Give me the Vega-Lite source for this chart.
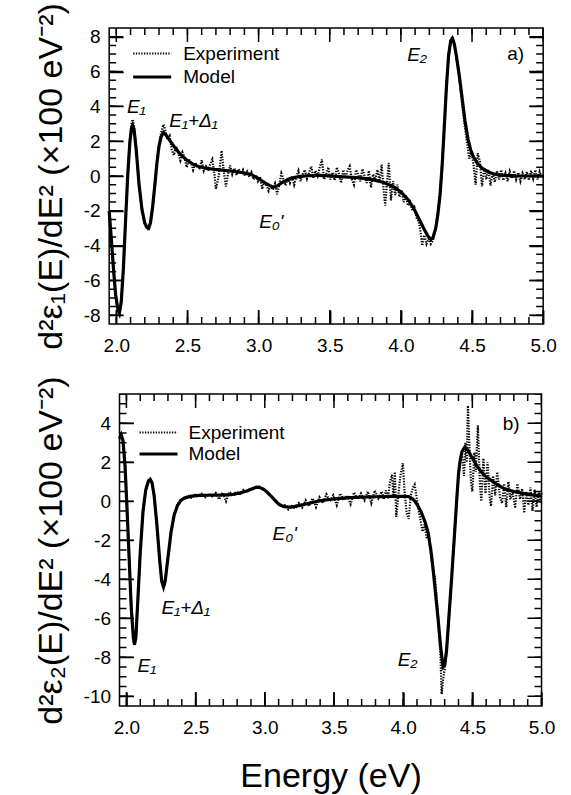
{
"$schema": "https://vega.github.io/schema/vega-lite/v6.json",
"background": "white",
"padding": {"left": 33, "top": 1, "right": 10, "bottom": 5},
"columns": 1,
"center": true,
"spacing": 19,
"config": {
  "view": {"stroke": "black", "strokeWidth": 1.5},
  "axis": {"domain": false, "grid": false, "labelFont": "Liberation Sans", "labelFontSize": 19, "labelColor": "black", "labelFlush": false, "labelOverlap": false, "titleFont": "Liberation Sans", "titleFontSize": 34, "titleFontWeight": "normal", "titleColor": "black"},
  "legend": {"labelFont": "Liberation Sans", "labelFontSize": 19, "labelColor": "black"}
},
"resolve": {"scale": {"strokeDash": "independent", "strokeWidth": "independent"}, "legend": {"strokeDash": "independent", "strokeWidth": "independent"}},
"datasets": {
"xMaj": [{"t":2},{"t":2.5},{"t":3},{"t":3.5},{"t":4},{"t":4.5},{"t":5}],
"xMin": [{"t":2},{"t":2.1},{"t":2.2},{"t":2.3},{"t":2.4},{"t":2.5},{"t":2.6},{"t":2.7},{"t":2.8},{"t":2.9},{"t":3},{"t":3.1},{"t":3.2},{"t":3.3},{"t":3.4},{"t":3.5},{"t":3.6},{"t":3.7},{"t":3.8},{"t":3.9},{"t":4},{"t":4.1},{"t":4.2},{"t":4.3},{"t":4.4},{"t":4.5},{"t":4.6},{"t":4.7},{"t":4.8},{"t":4.9},{"t":5}],
"yMajTop": [{"t":-8},{"t":-6},{"t":-4},{"t":-2},{"t":0},{"t":2},{"t":4},{"t":6},{"t":8}],
"yMinTop": [{"t":-8},{"t":-7.5},{"t":-7},{"t":-6.5},{"t":-6},{"t":-5.5},{"t":-5},{"t":-4.5},{"t":-4},{"t":-3.5},{"t":-3},{"t":-2.5},{"t":-2},{"t":-1.5},{"t":-1},{"t":-0.5},{"t":0},{"t":0.5},{"t":1},{"t":1.5},{"t":2},{"t":2.5},{"t":3},{"t":3.5},{"t":4},{"t":4.5},{"t":5},{"t":5.5},{"t":6},{"t":6.5},{"t":7},{"t":7.5},{"t":8}],
"yMajBot": [{"t":-10},{"t":-8},{"t":-6},{"t":-4},{"t":-2},{"t":0},{"t":2},{"t":4}],
"yMinBot": [{"t":-10},{"t":-9.5},{"t":-9},{"t":-8.5},{"t":-8},{"t":-7.5},{"t":-7},{"t":-6.5},{"t":-6},{"t":-5.5},{"t":-5},{"t":-4.5},{"t":-4},{"t":-3.5},{"t":-3},{"t":-2.5},{"t":-2},{"t":-1.5},{"t":-1},{"t":-0.5},{"t":0},{"t":0.5},{"t":1},{"t":1.5},{"t":2},{"t":2.5},{"t":3},{"t":3.5},{"t":4},{"t":4.5},{"t":5},{"t":5.5}],
"top": [
{"E":1.95,"v":-2.0,"s":"Model"},{"E":1.965,"v":-3.6,"s":"Model"},{"E":1.98,"v":-5.3,"s":"Model"},{"E":1.995,"v":-6.8,"s":"Model"},{"E":2.01,"v":-7.6,"s":"Model"},{"E":2.022,"v":-7.85,"s":"Model"},{"E":2.035,"v":-7.2,"s":"Model"},{"E":2.05,"v":-5.3,"s":"Model"},{"E":2.065,"v":-2.6,"s":"Model"},{"E":2.08,"v":0.0,"s":"Model"},{"E":2.095,"v":1.9,"s":"Model"},{"E":2.107,"v":2.75,"s":"Model"},{"E":2.115,"v":2.9,"s":"Model"},{"E":2.125,"v":2.65,"s":"Model"},{"E":2.14,"v":1.5,"s":"Model"},{"E":2.16,"v":-0.5,"s":"Model"},{"E":2.18,"v":-1.9,"s":"Model"},{"E":2.2,"v":-2.7,"s":"Model"},{"E":2.215,"v":-2.95,"s":"Model"},{"E":2.227,"v":-3.0,"s":"Model"},{"E":2.24,"v":-2.7,"s":"Model"},{"E":2.255,"v":-1.8,"s":"Model"},{"E":2.27,"v":-0.6,"s":"Model"},{"E":2.285,"v":0.7,"s":"Model"},{"E":2.3,"v":1.7,"s":"Model"},{"E":2.315,"v":2.25,"s":"Model"},{"E":2.332,"v":2.5,"s":"Model"},{"E":2.35,"v":2.35,"s":"Model"},{"E":2.38,"v":2.0,"s":"Model"},{"E":2.41,"v":1.65,"s":"Model"},{"E":2.45,"v":1.25,"s":"Model"},{"E":2.49,"v":0.95,"s":"Model"},{"E":2.53,"v":0.72,"s":"Model"},{"E":2.57,"v":0.57,"s":"Model"},{"E":2.62,"v":0.46,"s":"Model"},{"E":2.69,"v":0.38,"s":"Model"},{"E":2.75,"v":0.33,"s":"Model"},{"E":2.81,"v":0.28,"s":"Model"},{"E":2.88,"v":0.2,"s":"Model"},{"E":2.95,"v":0.08,"s":"Model"},{"E":3.0,"v":-0.15,"s":"Model"},{"E":3.05,"v":-0.42,"s":"Model"},{"E":3.1,"v":-0.65,"s":"Model"},{"E":3.13,"v":-0.58,"s":"Model"},{"E":3.17,"v":-0.35,"s":"Model"},{"E":3.22,"v":-0.15,"s":"Model"},{"E":3.28,"v":-0.04,"s":"Model"},{"E":3.35,"v":0.02,"s":"Model"},{"E":3.42,"v":0.04,"s":"Model"},{"E":3.5,"v":0.0,"s":"Model"},{"E":3.6,"v":-0.05,"s":"Model"},{"E":3.7,"v":-0.1,"s":"Model"},{"E":3.8,"v":-0.2,"s":"Model"},{"E":3.88,"v":-0.38,"s":"Model"},{"E":3.95,"v":-0.62,"s":"Model"},{"E":4.0,"v":-0.92,"s":"Model"},{"E":4.05,"v":-1.35,"s":"Model"},{"E":4.09,"v":-1.85,"s":"Model"},{"E":4.13,"v":-2.5,"s":"Model"},{"E":4.16,"v":-3.0,"s":"Model"},{"E":4.19,"v":-3.45,"s":"Model"},{"E":4.21,"v":-3.65,"s":"Model"},{"E":4.225,"v":-3.55,"s":"Model"},{"E":4.245,"v":-3.0,"s":"Model"},{"E":4.26,"v":-2.2,"s":"Model"},{"E":4.275,"v":-1.1,"s":"Model"},{"E":4.29,"v":0.6,"s":"Model"},{"E":4.305,"v":2.8,"s":"Model"},{"E":4.32,"v":5.1,"s":"Model"},{"E":4.335,"v":6.9,"s":"Model"},{"E":4.35,"v":7.75,"s":"Model"},{"E":4.362,"v":7.9,"s":"Model"},{"E":4.375,"v":7.6,"s":"Model"},{"E":4.39,"v":6.9,"s":"Model"},{"E":4.41,"v":5.8,"s":"Model"},{"E":4.43,"v":4.5,"s":"Model"},{"E":4.45,"v":3.2,"s":"Model"},{"E":4.47,"v":2.2,"s":"Model"},{"E":4.49,"v":1.5,"s":"Model"},{"E":4.51,"v":1.1,"s":"Model"},{"E":4.54,"v":0.7,"s":"Model"},{"E":4.57,"v":0.45,"s":"Model"},{"E":4.61,"v":0.25,"s":"Model"},{"E":4.65,"v":0.12,"s":"Model"},{"E":4.7,"v":0.05,"s":"Model"},{"E":4.8,"v":0.0,"s":"Model"},{"E":4.9,"v":0.0,"s":"Model"},{"E":5.0,"v":0.0,"s":"Model"},
{"E":1.95,"v":-2.2,"s":"Experiment"},{"E":1.965,"v":-3.7,"s":"Experiment"},{"E":1.98,"v":-5.4,"s":"Experiment"},{"E":1.995,"v":-6.9,"s":"Experiment"},{"E":2.01,"v":-7.7,"s":"Experiment"},{"E":2.022,"v":-7.95,"s":"Experiment"},{"E":2.035,"v":-7.3,"s":"Experiment"},{"E":2.05,"v":-5.2,"s":"Experiment"},{"E":2.065,"v":-2.5,"s":"Experiment"},{"E":2.08,"v":0.1,"s":"Experiment"},{"E":2.095,"v":2.1,"s":"Experiment"},{"E":2.107,"v":3.0,"s":"Experiment"},{"E":2.115,"v":3.25,"s":"Experiment"},{"E":2.125,"v":2.85,"s":"Experiment"},{"E":2.14,"v":1.6,"s":"Experiment"},{"E":2.16,"v":-0.4,"s":"Experiment"},{"E":2.18,"v":-1.9,"s":"Experiment"},{"E":2.2,"v":-2.75,"s":"Experiment"},{"E":2.215,"v":-3.0,"s":"Experiment"},{"E":2.227,"v":-3.1,"s":"Experiment"},{"E":2.24,"v":-2.75,"s":"Experiment"},{"E":2.255,"v":-1.8,"s":"Experiment"},{"E":2.27,"v":-0.5,"s":"Experiment"},{"E":2.285,"v":0.8,"s":"Experiment"},{"E":2.3,"v":1.8,"s":"Experiment"},{"E":2.315,"v":2.5,"s":"Experiment"},{"E":2.332,"v":2.95,"s":"Experiment"},{"E":2.345,"v":2.6,"s":"Experiment"},{"E":2.36,"v":2.1,"s":"Experiment"},{"E":2.375,"v":2.3,"s":"Experiment"},{"E":2.39,"v":1.5,"s":"Experiment"},{"E":2.405,"v":1.2,"s":"Experiment"},{"E":2.42,"v":1.7,"s":"Experiment"},{"E":2.435,"v":1.35,"s":"Experiment"},{"E":2.45,"v":0.9,"s":"Experiment"},{"E":2.465,"v":1.35,"s":"Experiment"},{"E":2.48,"v":1.05,"s":"Experiment"},{"E":2.495,"v":0.5,"s":"Experiment"},{"E":2.51,"v":0.95,"s":"Experiment"},{"E":2.525,"v":0.8,"s":"Experiment"},{"E":2.54,"v":0.35,"s":"Experiment"},{"E":2.555,"v":0.75,"s":"Experiment"},{"E":2.57,"v":0.55,"s":"Experiment"},{"E":2.585,"v":0.45,"s":"Experiment"},{"E":2.6,"v":0.9,"s":"Experiment"},{"E":2.615,"v":0.3,"s":"Experiment"},{"E":2.63,"v":0.55,"s":"Experiment"},{"E":2.645,"v":0.3,"s":"Experiment"},{"E":2.66,"v":0.7,"s":"Experiment"},{"E":2.675,"v":0.95,"s":"Experiment"},{"E":2.69,"v":0.1,"s":"Experiment"},{"E":2.7,"v":-0.75,"s":"Experiment"},{"E":2.715,"v":-0.2,"s":"Experiment"},{"E":2.725,"v":0.3,"s":"Experiment"},{"E":2.74,"v":1.45,"s":"Experiment"},{"E":2.755,"v":0.3,"s":"Experiment"},{"E":2.77,"v":-0.6,"s":"Experiment"},{"E":2.785,"v":0.1,"s":"Experiment"},{"E":2.8,"v":0.6,"s":"Experiment"},{"E":2.815,"v":0.1,"s":"Experiment"},{"E":2.83,"v":0.45,"s":"Experiment"},{"E":2.845,"v":0.05,"s":"Experiment"},{"E":2.86,"v":0.4,"s":"Experiment"},{"E":2.875,"v":0.15,"s":"Experiment"},{"E":2.89,"v":0.35,"s":"Experiment"},{"E":2.905,"v":0.0,"s":"Experiment"},{"E":2.92,"v":0.25,"s":"Experiment"},{"E":2.935,"v":-0.05,"s":"Experiment"},{"E":2.95,"v":0.2,"s":"Experiment"},{"E":2.965,"v":-0.2,"s":"Experiment"},{"E":2.98,"v":0.05,"s":"Experiment"},{"E":2.995,"v":-0.3,"s":"Experiment"},{"E":3.01,"v":-0.05,"s":"Experiment"},{"E":3.025,"v":-0.75,"s":"Experiment"},{"E":3.04,"v":-0.3,"s":"Experiment"},{"E":3.055,"v":-0.55,"s":"Experiment"},{"E":3.07,"v":-0.85,"s":"Experiment"},{"E":3.085,"v":-0.5,"s":"Experiment"},{"E":3.1,"v":-0.8,"s":"Experiment"},{"E":3.115,"v":-0.45,"s":"Experiment"},{"E":3.13,"v":-1.05,"s":"Experiment"},{"E":3.145,"v":-0.5,"s":"Experiment"},{"E":3.16,"v":0.15,"s":"Experiment"},{"E":3.175,"v":-0.2,"s":"Experiment"},{"E":3.19,"v":-0.55,"s":"Experiment"},{"E":3.205,"v":-0.1,"s":"Experiment"},{"E":3.22,"v":-0.4,"s":"Experiment"},{"E":3.235,"v":0.0,"s":"Experiment"},{"E":3.25,"v":-0.5,"s":"Experiment"},{"E":3.265,"v":-0.05,"s":"Experiment"},{"E":3.28,"v":0.3,"s":"Experiment"},{"E":3.295,"v":-0.3,"s":"Experiment"},{"E":3.31,"v":0.1,"s":"Experiment"},{"E":3.325,"v":0.35,"s":"Experiment"},{"E":3.34,"v":-0.15,"s":"Experiment"},{"E":3.355,"v":0.2,"s":"Experiment"},{"E":3.37,"v":0.55,"s":"Experiment"},{"E":3.385,"v":-0.1,"s":"Experiment"},{"E":3.4,"v":0.3,"s":"Experiment"},{"E":3.415,"v":0.0,"s":"Experiment"},{"E":3.43,"v":0.5,"s":"Experiment"},{"E":3.445,"v":0.95,"s":"Experiment"},{"E":3.46,"v":-0.2,"s":"Experiment"},{"E":3.475,"v":0.1,"s":"Experiment"},{"E":3.49,"v":0.5,"s":"Experiment"},{"E":3.505,"v":-0.2,"s":"Experiment"},{"E":3.52,"v":0.2,"s":"Experiment"},{"E":3.535,"v":-0.25,"s":"Experiment"},{"E":3.55,"v":0.5,"s":"Experiment"},{"E":3.565,"v":0.1,"s":"Experiment"},{"E":3.58,"v":-0.4,"s":"Experiment"},{"E":3.595,"v":0.35,"s":"Experiment"},{"E":3.61,"v":-0.1,"s":"Experiment"},{"E":3.625,"v":0.3,"s":"Experiment"},{"E":3.64,"v":0.55,"s":"Experiment"},{"E":3.655,"v":-0.2,"s":"Experiment"},{"E":3.67,"v":-0.5,"s":"Experiment"},{"E":3.685,"v":0.35,"s":"Experiment"},{"E":3.7,"v":0.1,"s":"Experiment"},{"E":3.715,"v":-0.3,"s":"Experiment"},{"E":3.73,"v":0.4,"s":"Experiment"},{"E":3.745,"v":0.0,"s":"Experiment"},{"E":3.76,"v":-0.4,"s":"Experiment"},{"E":3.775,"v":0.3,"s":"Experiment"},{"E":3.79,"v":-0.65,"s":"Experiment"},{"E":3.805,"v":0.1,"s":"Experiment"},{"E":3.82,"v":-0.2,"s":"Experiment"},{"E":3.835,"v":0.35,"s":"Experiment"},{"E":3.85,"v":-0.3,"s":"Experiment"},{"E":3.865,"v":0.65,"s":"Experiment"},{"E":3.88,"v":-0.9,"s":"Experiment"},{"E":3.89,"v":-1.7,"s":"Experiment"},{"E":3.9,"v":-0.6,"s":"Experiment"},{"E":3.915,"v":0.75,"s":"Experiment"},{"E":3.93,"v":-1.4,"s":"Experiment"},{"E":3.945,"v":-0.3,"s":"Experiment"},{"E":3.96,"v":-1.1,"s":"Experiment"},{"E":3.975,"v":-0.5,"s":"Experiment"},{"E":3.99,"v":-1.2,"s":"Experiment"},{"E":4.005,"v":-0.8,"s":"Experiment"},{"E":4.02,"v":-1.5,"s":"Experiment"},{"E":4.035,"v":-1.1,"s":"Experiment"},{"E":4.05,"v":-1.7,"s":"Experiment"},{"E":4.065,"v":-1.5,"s":"Experiment"},{"E":4.08,"v":-2.0,"s":"Experiment"},{"E":4.095,"v":-1.8,"s":"Experiment"},{"E":4.11,"v":-2.4,"s":"Experiment"},{"E":4.125,"v":-2.6,"s":"Experiment"},{"E":4.14,"v":-3.3,"s":"Experiment"},{"E":4.15,"v":-4.0,"s":"Experiment"},{"E":4.165,"v":-3.4,"s":"Experiment"},{"E":4.18,"v":-3.9,"s":"Experiment"},{"E":4.195,"v":-3.6,"s":"Experiment"},{"E":4.21,"v":-3.9,"s":"Experiment"},{"E":4.225,"v":-3.7,"s":"Experiment"},{"E":4.245,"v":-3.0,"s":"Experiment"},{"E":4.26,"v":-2.1,"s":"Experiment"},{"E":4.275,"v":-1.0,"s":"Experiment"},{"E":4.29,"v":0.7,"s":"Experiment"},{"E":4.305,"v":2.9,"s":"Experiment"},{"E":4.32,"v":5.2,"s":"Experiment"},{"E":4.335,"v":7.0,"s":"Experiment"},{"E":4.35,"v":7.85,"s":"Experiment"},{"E":4.362,"v":8.0,"s":"Experiment"},{"E":4.375,"v":7.6,"s":"Experiment"},{"E":4.39,"v":6.8,"s":"Experiment"},{"E":4.41,"v":5.6,"s":"Experiment"},{"E":4.43,"v":4.2,"s":"Experiment"},{"E":4.45,"v":2.8,"s":"Experiment"},{"E":4.465,"v":1.9,"s":"Experiment"},{"E":4.48,"v":1.0,"s":"Experiment"},{"E":4.495,"v":1.4,"s":"Experiment"},{"E":4.51,"v":0.7,"s":"Experiment"},{"E":4.525,"v":-0.5,"s":"Experiment"},{"E":4.54,"v":1.3,"s":"Experiment"},{"E":4.555,"v":0.85,"s":"Experiment"},{"E":4.57,"v":-0.6,"s":"Experiment"},{"E":4.585,"v":0.45,"s":"Experiment"},{"E":4.6,"v":-0.2,"s":"Experiment"},{"E":4.615,"v":0.35,"s":"Experiment"},{"E":4.63,"v":-0.55,"s":"Experiment"},{"E":4.645,"v":0.2,"s":"Experiment"},{"E":4.66,"v":-0.35,"s":"Experiment"},{"E":4.675,"v":0.3,"s":"Experiment"},{"E":4.69,"v":-0.2,"s":"Experiment"},{"E":4.705,"v":0.35,"s":"Experiment"},{"E":4.72,"v":-0.25,"s":"Experiment"},{"E":4.735,"v":0.15,"s":"Experiment"},{"E":4.75,"v":-0.3,"s":"Experiment"},{"E":4.765,"v":0.25,"s":"Experiment"},{"E":4.78,"v":-0.15,"s":"Experiment"},{"E":4.795,"v":0.3,"s":"Experiment"},{"E":4.81,"v":-0.2,"s":"Experiment"},{"E":4.825,"v":0.2,"s":"Experiment"},{"E":4.84,"v":-0.3,"s":"Experiment"},{"E":4.855,"v":0.15,"s":"Experiment"},{"E":4.87,"v":-0.2,"s":"Experiment"},{"E":4.885,"v":0.25,"s":"Experiment"},{"E":4.9,"v":-0.25,"s":"Experiment"},{"E":4.915,"v":0.3,"s":"Experiment"},{"E":4.93,"v":-0.15,"s":"Experiment"},{"E":4.945,"v":0.35,"s":"Experiment"},{"E":4.96,"v":-0.2,"s":"Experiment"},{"E":4.975,"v":0.25,"s":"Experiment"},{"E":4.99,"v":-0.1,"s":"Experiment"},{"E":5.0,"v":0.05,"s":"Experiment"}
],
"bot": [
{"E":1.95,"v":3.2,"s":"Model"},{"E":1.962,"v":3.4,"s":"Model"},{"E":1.975,"v":3.1,"s":"Model"},{"E":1.99,"v":1.8,"s":"Model"},{"E":2.005,"v":-0.5,"s":"Model"},{"E":2.02,"v":-3.0,"s":"Model"},{"E":2.035,"v":-5.5,"s":"Model"},{"E":2.05,"v":-7.0,"s":"Model"},{"E":2.058,"v":-7.35,"s":"Model"},{"E":2.068,"v":-7.0,"s":"Model"},{"E":2.08,"v":-5.4,"s":"Model"},{"E":2.1,"v":-2.6,"s":"Model"},{"E":2.12,"v":-0.5,"s":"Model"},{"E":2.14,"v":0.6,"s":"Model"},{"E":2.16,"v":1.05,"s":"Model"},{"E":2.172,"v":1.12,"s":"Model"},{"E":2.185,"v":0.95,"s":"Model"},{"E":2.2,"v":0.3,"s":"Model"},{"E":2.22,"v":-1.2,"s":"Model"},{"E":2.24,"v":-3.0,"s":"Model"},{"E":2.255,"v":-4.1,"s":"Model"},{"E":2.268,"v":-4.4,"s":"Model"},{"E":2.28,"v":-4.1,"s":"Model"},{"E":2.3,"v":-2.9,"s":"Model"},{"E":2.323,"v":-1.55,"s":"Model"},{"E":2.345,"v":-0.7,"s":"Model"},{"E":2.37,"v":-0.2,"s":"Model"},{"E":2.395,"v":0.05,"s":"Model"},{"E":2.42,"v":0.17,"s":"Model"},{"E":2.47,"v":0.26,"s":"Model"},{"E":2.52,"v":0.3,"s":"Model"},{"E":2.6,"v":0.31,"s":"Model"},{"E":2.7,"v":0.32,"s":"Model"},{"E":2.76,"v":0.34,"s":"Model"},{"E":2.82,"v":0.42,"s":"Model"},{"E":2.88,"v":0.55,"s":"Model"},{"E":2.93,"v":0.7,"s":"Model"},{"E":2.96,"v":0.72,"s":"Model"},{"E":2.99,"v":0.62,"s":"Model"},{"E":3.02,"v":0.45,"s":"Model"},{"E":3.06,"v":0.15,"s":"Model"},{"E":3.1,"v":-0.15,"s":"Model"},{"E":3.14,"v":-0.28,"s":"Model"},{"E":3.19,"v":-0.3,"s":"Model"},{"E":3.25,"v":-0.22,"s":"Model"},{"E":3.32,"v":-0.1,"s":"Model"},{"E":3.4,"v":0.03,"s":"Model"},{"E":3.5,"v":0.12,"s":"Model"},{"E":3.6,"v":0.18,"s":"Model"},{"E":3.7,"v":0.21,"s":"Model"},{"E":3.8,"v":0.23,"s":"Model"},{"E":3.9,"v":0.25,"s":"Model"},{"E":4.0,"v":0.25,"s":"Model"},{"E":4.04,"v":0.24,"s":"Model"},{"E":4.07,"v":0.12,"s":"Model"},{"E":4.1,"v":-0.15,"s":"Model"},{"E":4.13,"v":-0.55,"s":"Model"},{"E":4.16,"v":-1.1,"s":"Model"},{"E":4.18,"v":-1.6,"s":"Model"},{"E":4.2,"v":-2.5,"s":"Model"},{"E":4.216,"v":-3.45,"s":"Model"},{"E":4.235,"v":-4.8,"s":"Model"},{"E":4.252,"v":-6.0,"s":"Model"},{"E":4.27,"v":-7.4,"s":"Model"},{"E":4.288,"v":-8.5,"s":"Model"},{"E":4.3,"v":-8.4,"s":"Model"},{"E":4.313,"v":-7.7,"s":"Model"},{"E":4.33,"v":-6.0,"s":"Model"},{"E":4.35,"v":-3.97,"s":"Model"},{"E":4.37,"v":-1.8,"s":"Model"},{"E":4.386,"v":-0.04,"s":"Model"},{"E":4.4,"v":1.4,"s":"Model"},{"E":4.41,"v":2.0,"s":"Model"},{"E":4.425,"v":2.55,"s":"Model"},{"E":4.446,"v":2.78,"s":"Model"},{"E":4.47,"v":2.6,"s":"Model"},{"E":4.495,"v":2.27,"s":"Model"},{"E":4.53,"v":1.85,"s":"Model"},{"E":4.565,"v":1.5,"s":"Model"},{"E":4.6,"v":1.25,"s":"Model"},{"E":4.637,"v":1.07,"s":"Model"},{"E":4.68,"v":0.85,"s":"Model"},{"E":4.733,"v":0.64,"s":"Model"},{"E":4.8,"v":0.5,"s":"Model"},{"E":4.878,"v":0.39,"s":"Model"},{"E":4.94,"v":0.32,"s":"Model"},{"E":5.0,"v":0.27,"s":"Model"},
{"E":1.95,"v":3.3,"s":"Experiment"},{"E":1.962,"v":3.45,"s":"Experiment"},{"E":1.975,"v":3.15,"s":"Experiment"},{"E":1.99,"v":1.8,"s":"Experiment"},{"E":2.005,"v":-0.5,"s":"Experiment"},{"E":2.02,"v":-3.0,"s":"Experiment"},{"E":2.035,"v":-5.5,"s":"Experiment"},{"E":2.05,"v":-7.0,"s":"Experiment"},{"E":2.058,"v":-7.4,"s":"Experiment"},{"E":2.068,"v":-7.0,"s":"Experiment"},{"E":2.08,"v":-5.4,"s":"Experiment"},{"E":2.1,"v":-2.6,"s":"Experiment"},{"E":2.12,"v":-0.5,"s":"Experiment"},{"E":2.14,"v":0.6,"s":"Experiment"},{"E":2.16,"v":1.05,"s":"Experiment"},{"E":2.172,"v":1.15,"s":"Experiment"},{"E":2.185,"v":0.95,"s":"Experiment"},{"E":2.2,"v":0.3,"s":"Experiment"},{"E":2.22,"v":-1.2,"s":"Experiment"},{"E":2.24,"v":-3.0,"s":"Experiment"},{"E":2.255,"v":-4.1,"s":"Experiment"},{"E":2.268,"v":-4.45,"s":"Experiment"},{"E":2.28,"v":-4.1,"s":"Experiment"},{"E":2.3,"v":-2.9,"s":"Experiment"},{"E":2.323,"v":-1.55,"s":"Experiment"},{"E":2.345,"v":-0.7,"s":"Experiment"},{"E":2.37,"v":-0.15,"s":"Experiment"},{"E":2.395,"v":0.1,"s":"Experiment"},{"E":2.42,"v":0.12,"s":"Experiment"},{"E":2.445,"v":0.3,"s":"Experiment"},{"E":2.47,"v":0.18,"s":"Experiment"},{"E":2.495,"v":0.33,"s":"Experiment"},{"E":2.52,"v":0.22,"s":"Experiment"},{"E":2.545,"v":0.38,"s":"Experiment"},{"E":2.57,"v":0.2,"s":"Experiment"},{"E":2.595,"v":0.35,"s":"Experiment"},{"E":2.62,"v":0.25,"s":"Experiment"},{"E":2.645,"v":0.42,"s":"Experiment"},{"E":2.67,"v":0.1,"s":"Experiment"},{"E":2.695,"v":0.45,"s":"Experiment"},{"E":2.72,"v":0.0,"s":"Experiment"},{"E":2.745,"v":0.48,"s":"Experiment"},{"E":2.77,"v":0.28,"s":"Experiment"},{"E":2.795,"v":0.5,"s":"Experiment"},{"E":2.82,"v":0.38,"s":"Experiment"},{"E":2.845,"v":0.58,"s":"Experiment"},{"E":2.87,"v":0.48,"s":"Experiment"},{"E":2.895,"v":0.65,"s":"Experiment"},{"E":2.92,"v":0.62,"s":"Experiment"},{"E":2.945,"v":0.8,"s":"Experiment"},{"E":2.97,"v":0.68,"s":"Experiment"},{"E":2.995,"v":0.6,"s":"Experiment"},{"E":3.02,"v":0.42,"s":"Experiment"},{"E":3.045,"v":0.28,"s":"Experiment"},{"E":3.07,"v":0.05,"s":"Experiment"},{"E":3.095,"v":-0.05,"s":"Experiment"},{"E":3.12,"v":-0.3,"s":"Experiment"},{"E":3.145,"v":-0.2,"s":"Experiment"},{"E":3.17,"v":-0.42,"s":"Experiment"},{"E":3.195,"v":-0.25,"s":"Experiment"},{"E":3.22,"v":-0.38,"s":"Experiment"},{"E":3.245,"v":-0.1,"s":"Experiment"},{"E":3.27,"v":-0.32,"s":"Experiment"},{"E":3.295,"v":0.05,"s":"Experiment"},{"E":3.32,"v":-0.25,"s":"Experiment"},{"E":3.345,"v":0.15,"s":"Experiment"},{"E":3.37,"v":-0.3,"s":"Experiment"},{"E":3.395,"v":0.2,"s":"Experiment"},{"E":3.42,"v":-0.1,"s":"Experiment"},{"E":3.445,"v":0.35,"s":"Experiment"},{"E":3.47,"v":0.0,"s":"Experiment"},{"E":3.495,"v":0.3,"s":"Experiment"},{"E":3.52,"v":-0.2,"s":"Experiment"},{"E":3.545,"v":0.4,"s":"Experiment"},{"E":3.57,"v":0.05,"s":"Experiment"},{"E":3.595,"v":0.3,"s":"Experiment"},{"E":3.62,"v":-0.15,"s":"Experiment"},{"E":3.645,"v":0.45,"s":"Experiment"},{"E":3.67,"v":0.1,"s":"Experiment"},{"E":3.695,"v":0.4,"s":"Experiment"},{"E":3.72,"v":0.05,"s":"Experiment"},{"E":3.745,"v":0.5,"s":"Experiment"},{"E":3.77,"v":-0.1,"s":"Experiment"},{"E":3.795,"v":0.55,"s":"Experiment"},{"E":3.82,"v":0.15,"s":"Experiment"},{"E":3.845,"v":0.5,"s":"Experiment"},{"E":3.86,"v":0.1,"s":"Experiment"},{"E":3.875,"v":0.55,"s":"Experiment"},{"E":3.89,"v":0.15,"s":"Experiment"},{"E":3.905,"v":1.0,"s":"Experiment"},{"E":3.92,"v":1.35,"s":"Experiment"},{"E":3.93,"v":0.2,"s":"Experiment"},{"E":3.94,"v":1.5,"s":"Experiment"},{"E":3.95,"v":-0.8,"s":"Experiment"},{"E":3.965,"v":0.3,"s":"Experiment"},{"E":3.98,"v":1.3,"s":"Experiment"},{"E":3.998,"v":1.95,"s":"Experiment"},{"E":4.01,"v":0.5,"s":"Experiment"},{"E":4.025,"v":-0.6,"s":"Experiment"},{"E":4.04,"v":-0.9,"s":"Experiment"},{"E":4.055,"v":0.3,"s":"Experiment"},{"E":4.07,"v":0.7,"s":"Experiment"},{"E":4.083,"v":0.85,"s":"Experiment"},{"E":4.095,"v":0.3,"s":"Experiment"},{"E":4.11,"v":-0.4,"s":"Experiment"},{"E":4.125,"v":-0.95,"s":"Experiment"},{"E":4.14,"v":-1.55,"s":"Experiment"},{"E":4.155,"v":-1.2,"s":"Experiment"},{"E":4.17,"v":-1.9,"s":"Experiment"},{"E":4.185,"v":-1.75,"s":"Experiment"},{"E":4.2,"v":-2.6,"s":"Experiment"},{"E":4.216,"v":-3.6,"s":"Experiment"},{"E":4.23,"v":-3.9,"s":"Experiment"},{"E":4.245,"v":-5.2,"s":"Experiment"},{"E":4.26,"v":-6.8,"s":"Experiment"},{"E":4.27,"v":-8.0,"s":"Experiment"},{"E":4.278,"v":-9.9,"s":"Experiment"},{"E":4.288,"v":-9.2,"s":"Experiment"},{"E":4.3,"v":-8.6,"s":"Experiment"},{"E":4.313,"v":-7.8,"s":"Experiment"},{"E":4.33,"v":-6.1,"s":"Experiment"},{"E":4.35,"v":-4.0,"s":"Experiment"},{"E":4.37,"v":-1.9,"s":"Experiment"},{"E":4.386,"v":-0.1,"s":"Experiment"},{"E":4.4,"v":1.3,"s":"Experiment"},{"E":4.41,"v":2.0,"s":"Experiment"},{"E":4.425,"v":2.4,"s":"Experiment"},{"E":4.44,"v":1.3,"s":"Experiment"},{"E":4.45,"v":3.0,"s":"Experiment"},{"E":4.46,"v":2.0,"s":"Experiment"},{"E":4.468,"v":4.9,"s":"Experiment"},{"E":4.48,"v":2.6,"s":"Experiment"},{"E":4.49,"v":1.0,"s":"Experiment"},{"E":4.5,"v":0.5,"s":"Experiment"},{"E":4.515,"v":2.5,"s":"Experiment"},{"E":4.525,"v":1.5,"s":"Experiment"},{"E":4.54,"v":3.9,"s":"Experiment"},{"E":4.555,"v":0.8,"s":"Experiment"},{"E":4.565,"v":0.0,"s":"Experiment"},{"E":4.58,"v":2.2,"s":"Experiment"},{"E":4.595,"v":0.4,"s":"Experiment"},{"E":4.61,"v":2.0,"s":"Experiment"},{"E":4.625,"v":0.2,"s":"Experiment"},{"E":4.635,"v":-0.25,"s":"Experiment"},{"E":4.65,"v":1.3,"s":"Experiment"},{"E":4.665,"v":0.3,"s":"Experiment"},{"E":4.68,"v":1.5,"s":"Experiment"},{"E":4.7,"v":0.2,"s":"Experiment"},{"E":4.715,"v":-0.1,"s":"Experiment"},{"E":4.73,"v":0.9,"s":"Experiment"},{"E":4.745,"v":-0.3,"s":"Experiment"},{"E":4.76,"v":1.0,"s":"Experiment"},{"E":4.775,"v":0.1,"s":"Experiment"},{"E":4.79,"v":0.5,"s":"Experiment"},{"E":4.81,"v":-0.35,"s":"Experiment"},{"E":4.825,"v":0.9,"s":"Experiment"},{"E":4.845,"v":0.1,"s":"Experiment"},{"E":4.86,"v":0.65,"s":"Experiment"},{"E":4.875,"v":-0.6,"s":"Experiment"},{"E":4.89,"v":0.5,"s":"Experiment"},{"E":4.905,"v":-0.2,"s":"Experiment"},{"E":4.92,"v":0.7,"s":"Experiment"},{"E":4.935,"v":-0.5,"s":"Experiment"},{"E":4.95,"v":0.6,"s":"Experiment"},{"E":4.965,"v":-0.3,"s":"Experiment"},{"E":4.98,"v":0.5,"s":"Experiment"},{"E":4.99,"v":-0.1,"s":"Experiment"},{"E":5.0,"v":0.4,"s":"Experiment"}
],
"topLab": [{"E":2.076,"v":3.96,"t":"E₁"},{"E":2.372,"v":3.16,"t":"E₁+Δ₁"},{"E":3.004,"v":-2.64,"t":"E₀'"},{"E":4.044,"v":6.95,"t":"E₂"}],
"topTag": [{"E":4.747,"v":6.98,"t":"a)"}],
"botLab": [{"E":2.08,"v":-8.45,"t":"E₁"},{"E":2.254,"v":-5.47,"t":"E₁+Δ₁"},{"E":3.056,"v":-1.68,"t":"E₀'"},{"E":3.96,"v":-8.14,"t":"E₂"}],
"botTag": [{"E":4.719,"v":3.96,"t":"b)"}]
},
"concat": [
{
 "width": 434, "height": 296,
 "resolve": {"axis": {"x": "independent", "y": "independent"}},
 "layer": [
  {"data": {"name": "top"}, "mark": {"type": "line", "opacity": 0},
   "encoding": {
    "x": {"field": "E", "type": "quantitative", "scale": {"domain": [1.95, 5]}, "axis": null},
    "y": {"field": "v", "type": "quantitative", "scale": {"domain": [-8.5, 8.5]}, "axis": {"orient": "right", "values": [-8,-6,-4,-2,0,2,4,6,8], "labelExpr": "datum.value < 0 ? '-' + abs(datum.value) : '' + datum.value", "labelOpacity": 0, "labelPadding": 19, "domain": false, "grid": false, "tickColor": "black", "tickWidth": 1.5, "tickSize": -14, "title": null}}
   }},
  {"data": {"name": "top"}, "mark": {"type": "line", "color": "black"},
   "encoding": {
    "x": {"field": "E", "type": "quantitative", "scale": {"domain": [1.95, 5]}, "axis": {"orient": "bottom", "values": [2,2.5,3,3.5,4,4.5,5], "format": ".1f", "domain": false, "grid": false, "tickColor": "black", "tickWidth": 1.5, "tickSize": -14, "labelPadding": 26, "title": null}},
    "y": {"field": "v", "type": "quantitative", "scale": {"domain": [-8.5, 8.5]}, "axis": {"orient": "left", "values": [-8,-6,-4,-2,0,2,4,6,8], "labelExpr": "datum.value < 0 ? '-' + abs(datum.value) : '' + datum.value", "domain": false, "grid": false, "tickColor": "black", "tickWidth": 1.5, "tickSize": -14, "labelPadding": 23, "title": "d²ε₁(E)/dE² (×100 eV⁻²)", "titlePadding": 15}},
    "strokeDash": {"field": "s", "type": "nominal", "scale": {"domain": ["Experiment", "Model"], "range": [[1.3, 1.4], [1, 0]]}, "legend": {"title": null, "orient": "none", "legendX": 31.5, "legendY": 14.5, "symbolType": "M-2,0H2", "symbolSize": 361, "symbolStrokeColor": "black", "labelOffset": 19.5, "rowPadding": 2, "padding": 0}},
    "strokeWidth": {"field": "s", "type": "nominal", "scale": {"domain": ["Experiment", "Model"], "range": [2.2, 3.2]}, "legend": {"title": null, "orient": "none", "legendX": 31.5, "legendY": 14.5, "symbolType": "M-2,0H2", "symbolSize": 361, "symbolStrokeColor": "black", "labelOffset": 19.5, "rowPadding": 2, "padding": 0}}
   }},
  {"data": {"name": "xMaj"}, "mark": {"type": "tick", "orient": "vertical", "size": 28, "thickness": 1.5, "color": "black", "opacity": 1, "clip": true},
   "encoding": {"x": {"field": "t", "type": "quantitative", "scale": {"domain": [1.95, 5]}, "axis": null}, "y": {"datum": 8.5, "type": "quantitative", "scale": {"domain": [-8.5, 8.5]}, "axis": null}}},
  {"data": {"name": "xMaj"}, "mark": {"type": "tick", "orient": "vertical", "size": 28, "thickness": 1.5, "color": "black", "opacity": 1, "clip": true},
   "encoding": {"x": {"field": "t", "type": "quantitative", "scale": {"domain": [1.95, 5]}, "axis": null}, "y": {"datum": -8.5, "type": "quantitative", "scale": {"domain": [-8.5, 8.5]}, "axis": null}}},
  {"data": {"name": "xMin"}, "mark": {"type": "tick", "orient": "vertical", "size": 14, "thickness": 1.5, "color": "black", "opacity": 1, "clip": true},
   "encoding": {"x": {"field": "t", "type": "quantitative", "scale": {"domain": [1.95, 5]}, "axis": null}, "y": {"datum": 8.5, "type": "quantitative", "scale": {"domain": [-8.5, 8.5]}, "axis": null}}},
  {"data": {"name": "xMin"}, "mark": {"type": "tick", "orient": "vertical", "size": 14, "thickness": 1.5, "color": "black", "opacity": 1, "clip": true},
   "encoding": {"x": {"field": "t", "type": "quantitative", "scale": {"domain": [1.95, 5]}, "axis": null}, "y": {"datum": -8.5, "type": "quantitative", "scale": {"domain": [-8.5, 8.5]}, "axis": null}}},
  {"data": {"name": "yMajTop"}, "mark": {"type": "tick", "orient": "horizontal", "size": 28, "thickness": 1.5, "color": "black", "opacity": 1, "clip": true},
   "encoding": {"y": {"field": "t", "type": "quantitative", "scale": {"domain": [-8.5, 8.5]}, "axis": null}, "x": {"datum": 1.95, "type": "quantitative", "scale": {"domain": [1.95, 5]}, "axis": null}}},
  {"data": {"name": "yMajTop"}, "mark": {"type": "tick", "orient": "horizontal", "size": 28, "thickness": 1.5, "color": "black", "opacity": 1, "clip": true},
   "encoding": {"y": {"field": "t", "type": "quantitative", "scale": {"domain": [-8.5, 8.5]}, "axis": null}, "x": {"datum": 5, "type": "quantitative", "scale": {"domain": [1.95, 5]}, "axis": null}}},
  {"data": {"name": "yMinTop"}, "mark": {"type": "tick", "orient": "horizontal", "size": 14, "thickness": 1.5, "color": "black", "opacity": 1, "clip": true},
   "encoding": {"y": {"field": "t", "type": "quantitative", "scale": {"domain": [-8.5, 8.5]}, "axis": null}, "x": {"datum": 1.95, "type": "quantitative", "scale": {"domain": [1.95, 5]}, "axis": null}}},
  {"data": {"name": "yMinTop"}, "mark": {"type": "tick", "orient": "horizontal", "size": 14, "thickness": 1.5, "color": "black", "opacity": 1, "clip": true},
   "encoding": {"y": {"field": "t", "type": "quantitative", "scale": {"domain": [-8.5, 8.5]}, "axis": null}, "x": {"datum": 5, "type": "quantitative", "scale": {"domain": [1.95, 5]}, "axis": null}}},
  {"data": {"name": "topLab"}, "mark": {"type": "text", "align": "left", "baseline": "middle", "font": "Liberation Sans", "fontSize": 19, "fontStyle": "italic", "color": "black"},
   "encoding": {
    "x": {"field": "E", "type": "quantitative", "scale": {"domain": [1.95, 5]}, "axis": null},
    "y": {"field": "v", "type": "quantitative", "scale": {"domain": [-8.5, 8.5]}, "axis": null},
    "text": {"field": "t"}
   }},
  {"data": {"name": "topTag"}, "mark": {"type": "text", "align": "left", "baseline": "middle", "font": "Liberation Sans", "fontSize": 19, "color": "black"},
   "encoding": {
    "x": {"field": "E", "type": "quantitative", "scale": {"domain": [1.95, 5]}, "axis": null},
    "y": {"field": "v", "type": "quantitative", "scale": {"domain": [-8.5, 8.5]}, "axis": null},
    "text": {"field": "t"}
   }}
 ]
},
{
 "width": 422, "height": 312,
 "resolve": {"axis": {"x": "independent", "y": "independent"}},
 "layer": [
  {"data": {"name": "bot"}, "mark": {"type": "line", "color": "black"},
   "encoding": {
    "x": {"field": "E", "type": "quantitative", "scale": {"domain": [1.95, 5]}, "axis": {"orient": "bottom", "values": [2,2.5,3,3.5,4,4.5,5], "format": ".1f", "domain": false, "grid": false, "tickColor": "black", "tickWidth": 1.5, "tickSize": -14, "labelPadding": 26, "title": "Energy (eV)", "titlePadding": 22}},
    "y": {"field": "v", "type": "quantitative", "scale": {"domain": [-10.5, 5.5]}, "axis": {"orient": "left", "values": [-10,-8,-6,-4,-2,0,2,4], "labelExpr": "datum.value < 0 ? '-' + abs(datum.value) : '' + datum.value", "domain": false, "grid": false, "tickColor": "black", "tickWidth": 1.5, "tickSize": -14, "labelPadding": 23, "title": "d²ε₂(E)/dE² (×100 eV⁻²)", "titlePadding": 15}},
    "strokeDash": {"field": "s", "type": "nominal", "scale": {"domain": ["Experiment", "Model"], "range": [[1.3, 1.4], [1, 0]]}, "legend": {"title": null, "orient": "none", "legendX": 27.5, "legendY": 27.5, "symbolType": "M-2,0H2", "symbolSize": 361, "symbolStrokeColor": "black", "labelOffset": 18.5, "rowPadding": 0, "padding": 0}},
    "strokeWidth": {"field": "s", "type": "nominal", "scale": {"domain": ["Experiment", "Model"], "range": [2.2, 3.2]}, "legend": {"title": null, "orient": "none", "legendX": 27.5, "legendY": 27.5, "symbolType": "M-2,0H2", "symbolSize": 361, "symbolStrokeColor": "black", "labelOffset": 18.5, "rowPadding": 0, "padding": 0}}
   }},
  {"data": {"name": "xMaj"}, "mark": {"type": "tick", "orient": "vertical", "size": 28, "thickness": 1.5, "color": "black", "opacity": 1, "clip": true},
   "encoding": {"x": {"field": "t", "type": "quantitative", "scale": {"domain": [1.95, 5]}, "axis": null}, "y": {"datum": 5.5, "type": "quantitative", "scale": {"domain": [-10.5, 5.5]}, "axis": null}}},
  {"data": {"name": "xMaj"}, "mark": {"type": "tick", "orient": "vertical", "size": 28, "thickness": 1.5, "color": "black", "opacity": 1, "clip": true},
   "encoding": {"x": {"field": "t", "type": "quantitative", "scale": {"domain": [1.95, 5]}, "axis": null}, "y": {"datum": -10.5, "type": "quantitative", "scale": {"domain": [-10.5, 5.5]}, "axis": null}}},
  {"data": {"name": "xMin"}, "mark": {"type": "tick", "orient": "vertical", "size": 14, "thickness": 1.5, "color": "black", "opacity": 1, "clip": true},
   "encoding": {"x": {"field": "t", "type": "quantitative", "scale": {"domain": [1.95, 5]}, "axis": null}, "y": {"datum": 5.5, "type": "quantitative", "scale": {"domain": [-10.5, 5.5]}, "axis": null}}},
  {"data": {"name": "xMin"}, "mark": {"type": "tick", "orient": "vertical", "size": 14, "thickness": 1.5, "color": "black", "opacity": 1, "clip": true},
   "encoding": {"x": {"field": "t", "type": "quantitative", "scale": {"domain": [1.95, 5]}, "axis": null}, "y": {"datum": -10.5, "type": "quantitative", "scale": {"domain": [-10.5, 5.5]}, "axis": null}}},
  {"data": {"name": "yMajBot"}, "mark": {"type": "tick", "orient": "horizontal", "size": 28, "thickness": 1.5, "color": "black", "opacity": 1, "clip": true},
   "encoding": {"y": {"field": "t", "type": "quantitative", "scale": {"domain": [-10.5, 5.5]}, "axis": null}, "x": {"datum": 1.95, "type": "quantitative", "scale": {"domain": [1.95, 5]}, "axis": null}}},
  {"data": {"name": "yMajBot"}, "mark": {"type": "tick", "orient": "horizontal", "size": 28, "thickness": 1.5, "color": "black", "opacity": 1, "clip": true},
   "encoding": {"y": {"field": "t", "type": "quantitative", "scale": {"domain": [-10.5, 5.5]}, "axis": null}, "x": {"datum": 5, "type": "quantitative", "scale": {"domain": [1.95, 5]}, "axis": null}}},
  {"data": {"name": "yMinBot"}, "mark": {"type": "tick", "orient": "horizontal", "size": 14, "thickness": 1.5, "color": "black", "opacity": 1, "clip": true},
   "encoding": {"y": {"field": "t", "type": "quantitative", "scale": {"domain": [-10.5, 5.5]}, "axis": null}, "x": {"datum": 1.95, "type": "quantitative", "scale": {"domain": [1.95, 5]}, "axis": null}}},
  {"data": {"name": "yMinBot"}, "mark": {"type": "tick", "orient": "horizontal", "size": 14, "thickness": 1.5, "color": "black", "opacity": 1, "clip": true},
   "encoding": {"y": {"field": "t", "type": "quantitative", "scale": {"domain": [-10.5, 5.5]}, "axis": null}, "x": {"datum": 5, "type": "quantitative", "scale": {"domain": [1.95, 5]}, "axis": null}}},
  {"data": {"name": "botLab"}, "mark": {"type": "text", "align": "left", "baseline": "middle", "font": "Liberation Sans", "fontSize": 19, "fontStyle": "italic", "color": "black"},
   "encoding": {
    "x": {"field": "E", "type": "quantitative", "scale": {"domain": [1.95, 5]}, "axis": null},
    "y": {"field": "v", "type": "quantitative", "scale": {"domain": [-10.5, 5.5]}, "axis": null},
    "text": {"field": "t"}
   }},
  {"data": {"name": "botTag"}, "mark": {"type": "text", "align": "left", "baseline": "middle", "font": "Liberation Sans", "fontSize": 19, "color": "black"},
   "encoding": {
    "x": {"field": "E", "type": "quantitative", "scale": {"domain": [1.95, 5]}, "axis": null},
    "y": {"field": "v", "type": "quantitative", "scale": {"domain": [-10.5, 5.5]}, "axis": null},
    "text": {"field": "t"}
   }}
 ]
}
]
}
